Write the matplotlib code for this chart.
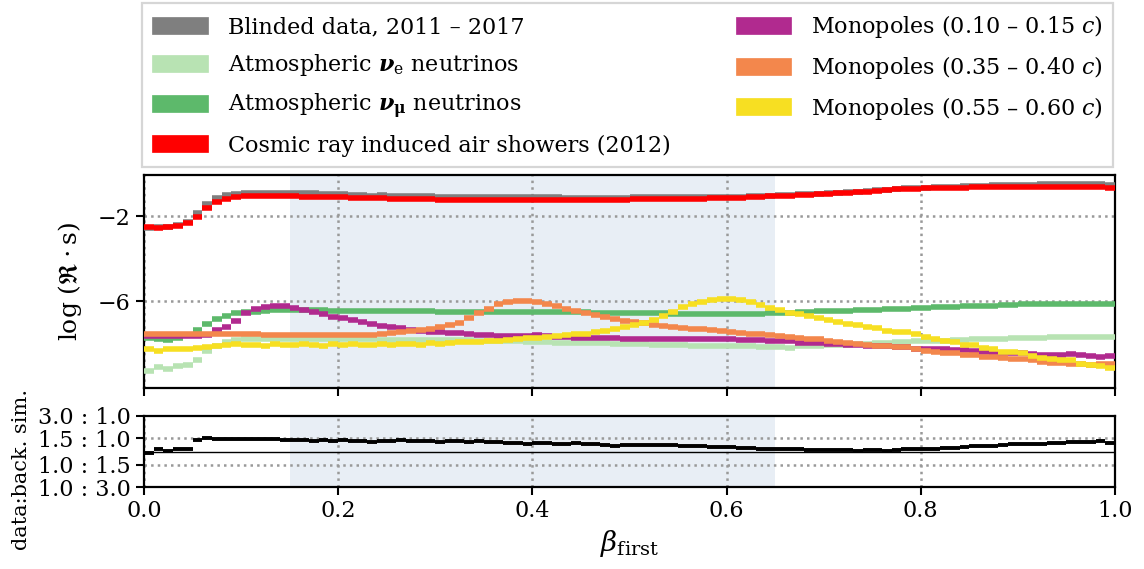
import numpy as np
import matplotlib
matplotlib.use("Agg")
import matplotlib.pyplot as plt
from matplotlib.patches import Patch

plt.rcParams['font.family'] = ['DejaVu Serif']
plt.rcParams['mathtext.fontset'] = 'dejavuserif'

# 100 bins in beta_first, values are log10(rate * s)
bin_edges = np.linspace(0.0, 1.0, 101)

blinded_data = [
    -2.53, -2.51, -2.49, -2.42, -2.26, -1.86, -1.44, -1.15, -1.01, -0.93,
    -0.89, -0.89, -0.89, -0.89, -0.90, -0.90, -0.91, -0.92, -0.94, -0.96,
    -0.95, -0.98, -0.99, -1.02, -1.01, -1.02, -1.02, -1.04, -1.06, -1.06,
    -1.08, -1.07, -1.08, -1.10, -1.09, -1.10, -1.09, -1.10, -1.11, -1.10,
    -1.10, -1.11, -1.11, -1.13, -1.12, -1.12, -1.12, -1.13, -1.13, -1.12,
    -1.11, -1.11, -1.10, -1.11, -1.10, -1.11, -1.10, -1.09, -1.09, -1.08,
    -1.07, -1.07, -1.06, -1.04, -1.03, -1.01, -0.99, -0.97, -0.96, -0.94,
    -0.91, -0.89, -0.86, -0.85, -0.81, -0.78, -0.75, -0.71, -0.68, -0.66,
    -0.64, -0.63, -0.61, -0.60, -0.58, -0.56, -0.55, -0.54, -0.52, -0.51,
    -0.50, -0.50, -0.49, -0.49, -0.48, -0.48, -0.49, -0.49, -0.49, -0.52,
]
nu_e = [
    -9.31, -9.12, -9.21, -9.06, -9.02, -8.76, -8.36, -8.11, -7.95, -7.83,
    -7.80, -7.78, -7.78, -7.77, -7.78, -7.78, -7.79, -7.78, -7.78, -7.79,
    -7.80, -7.80, -7.81, -7.81, -7.82, -7.82, -7.83, -7.83, -7.83, -7.84,
    -7.84, -7.84, -7.85, -7.85, -7.86, -7.87, -7.88, -7.89, -7.90, -7.91,
    -7.95, -7.95, -7.96, -7.97, -7.98, -7.99, -8.00, -8.00, -8.01, -8.02,
    -8.03, -8.04, -8.05, -8.06, -8.07, -8.08, -8.10, -8.11, -8.12, -8.12,
    -8.12, -8.12, -8.13, -8.15, -8.16, -8.16, -8.21, -8.13, -8.12, -8.11,
    -8.08, -8.06, -8.05, -8.04, -8.03, -8.00, -7.96, -7.93, -7.92, -7.90,
    -7.88, -7.87, -7.86, -7.84, -7.83, -7.81, -7.80, -7.79, -7.77, -7.76,
    -7.75, -7.74, -7.72, -7.71, -7.70, -7.69, -7.69, -7.69, -7.70, -7.71,
]
nu_mu = [
    -7.76, -7.80, -7.83, -7.73, -7.60, -7.37, -7.09, -6.83, -6.69, -6.58,
    -6.50, -6.50, -6.47, -6.44, -6.41, -6.43, -6.43, -6.43, -6.44, -6.46,
    -6.46, -6.46, -6.46, -6.47, -6.47, -6.48, -6.48, -6.48, -6.49, -6.49,
    -6.50, -6.50, -6.50, -6.50, -6.51, -6.51, -6.52, -6.52, -6.52, -6.52,
    -6.51, -6.51, -6.52, -6.52, -6.52, -6.53, -6.54, -6.55, -6.55, -6.56,
    -6.56, -6.57, -6.57, -6.58, -6.59, -6.60, -6.61, -6.62, -6.62, -6.63,
    -6.62, -6.61, -6.60, -6.59, -6.58, -6.57, -6.55, -6.52, -6.50, -6.49,
    -6.48, -6.46, -6.45, -6.44, -6.43, -6.40, -6.38, -6.36, -6.37, -6.33,
    -6.31, -6.30, -6.28, -6.27, -6.25, -6.24, -6.22, -6.21, -6.19, -6.18,
    -6.16, -6.15, -6.15, -6.14, -6.14, -6.13, -6.13, -6.13, -6.14, -6.14,
]
air_showers = [
    -2.52, -2.54, -2.50, -2.46, -2.30, -2.02, -1.62, -1.32, -1.17, -1.10,
    -1.06, -1.06, -1.06, -1.06, -1.06, -1.06, -1.07, -1.07, -1.09, -1.10,
    -1.10, -1.12, -1.13, -1.15, -1.15, -1.17, -1.18, -1.18, -1.20, -1.20,
    -1.21, -1.21, -1.22, -1.23, -1.23, -1.23, -1.22, -1.22, -1.22, -1.21,
    -1.21, -1.22, -1.22, -1.23, -1.23, -1.23, -1.22, -1.22, -1.21, -1.21,
    -1.20, -1.20, -1.19, -1.19, -1.18, -1.18, -1.17, -1.16, -1.15, -1.14,
    -1.13, -1.12, -1.10, -1.08, -1.06, -1.04, -1.02, -1.00, -0.98, -0.96,
    -0.93, -0.91, -0.88, -0.86, -0.83, -0.80, -0.76, -0.73, -0.71, -0.70,
    -0.68, -0.67, -0.66, -0.65, -0.64, -0.63, -0.62, -0.62, -0.61, -0.61,
    -0.60, -0.60, -0.60, -0.60, -0.60, -0.60, -0.61, -0.62, -0.63, -0.64,
]
mono_010 = [
    -7.65, -7.65, -7.65, -7.65, -7.64, -7.64, -7.60, -7.37, -7.21, -6.93,
    -6.54, -6.38, -6.28, -6.24, -6.24, -6.31, -6.43, -6.52, -6.63, -6.74,
    -6.82, -6.91, -6.99, -7.09, -7.18, -7.23, -7.29, -7.34, -7.39, -7.45,
    -7.47, -7.51, -7.52, -7.56, -7.61, -7.62, -7.64, -7.65, -7.65, -7.65,
    -7.62, -7.64, -7.68, -7.70, -7.72, -7.72, -7.73, -7.76, -7.76, -7.77,
    -7.78, -7.78, -7.79, -7.81, -7.81, -7.80, -7.80, -7.81, -7.80, -7.77,
    -7.80, -7.83, -7.84, -7.85, -7.86, -7.86, -7.87, -7.96, -7.97, -8.00,
    -8.03, -8.04, -8.05, -8.07, -8.10, -8.12, -8.14, -8.17, -8.16, -8.24,
    -8.26, -8.25, -8.24, -8.30, -8.31, -8.35, -8.39, -8.44, -8.44, -8.44,
    -8.44, -8.49, -8.52, -8.52, -8.52, -8.51, -8.55, -8.58, -8.64, -8.57,
]
mono_035 = [
    -7.53, -7.53, -7.53, -7.54, -7.54, -7.54, -7.55, -7.55, -7.56, -7.57,
    -7.57, -7.57, -7.58, -7.58, -7.58, -7.58, -7.59, -7.59, -7.59, -7.60,
    -7.62, -7.62, -7.62, -7.61, -7.57, -7.50, -7.48, -7.40, -7.37, -7.31,
    -7.24, -7.15, -7.01, -6.82, -6.58, -6.35, -6.16, -6.06, -6.00, -5.98,
    -6.03, -6.13, -6.24, -6.35, -6.47, -6.57, -6.66, -6.76, -6.85, -6.93,
    -6.98, -7.04, -7.12, -7.17, -7.21, -7.26, -7.30, -7.33, -7.36, -7.39,
    -7.44, -7.50, -7.53, -7.57, -7.61, -7.65, -7.68, -7.75, -7.78, -7.81,
    -7.87, -7.92, -7.97, -8.02, -8.05, -8.10, -8.12, -8.16, -8.18, -8.24,
    -8.35, -8.42, -8.44, -8.45, -8.55, -8.56, -8.65, -8.65, -8.68, -8.72,
    -8.74, -8.78, -8.87, -8.90, -8.91, -8.98, -8.98, -9.00, -8.96, -8.98,
]
mono_055 = [
    -8.28, -8.36, -8.28, -8.28, -8.26, -8.20, -8.16, -8.11, -8.08, -8.03,
    -8.08, -8.05, -8.11, -8.03, -8.08, -8.05, -8.03, -8.08, -8.11, -8.03,
    -8.05, -8.03, -8.05, -8.06, -8.03, -8.08, -8.02, -8.03, -8.05, -8.00,
    -8.02, -7.97, -7.94, -7.91, -7.94, -7.89, -7.87, -7.83, -7.80, -7.76,
    -7.73, -7.70, -7.64, -7.61, -7.57, -7.53, -7.45, -7.39, -7.32, -7.24,
    -7.13, -7.02, -6.88, -6.69, -6.50, -6.30, -6.13, -6.03, -5.95, -5.91,
    -5.91, -5.97, -6.06, -6.19, -6.31, -6.43, -6.54, -6.63, -6.72, -6.82,
    -6.91, -6.99, -7.07, -7.15, -7.23, -7.29, -7.39, -7.45, -7.46, -7.57,
    -7.69, -7.80, -7.87, -7.93, -8.06, -8.08, -8.20, -8.27, -8.39, -8.41,
    -8.43, -8.58, -8.69, -8.71, -8.77, -8.80, -8.96, -9.02, -9.07, -9.15,
]
# log10(data / background simulation)
data_ratio = [
    -0.014, 0.034, 0.010, 0.039, 0.039, 0.159, 0.179, 0.174, 0.164, 0.169,
    0.169, 0.169, 0.169, 0.174, 0.159, 0.159, 0.159, 0.145, 0.150, 0.140,
    0.150, 0.135, 0.140, 0.130, 0.140, 0.145, 0.155, 0.140, 0.135, 0.140,
    0.126, 0.135, 0.135, 0.130, 0.135, 0.130, 0.130, 0.116, 0.111, 0.106,
    0.111, 0.111, 0.106, 0.101, 0.111, 0.106, 0.101, 0.092, 0.077, 0.092,
    0.087, 0.087, 0.087, 0.082, 0.082, 0.072, 0.068, 0.068, 0.063, 0.058,
    0.058, 0.053, 0.043, 0.039, 0.034, 0.034, 0.029, 0.029, 0.024, 0.024,
    0.019, 0.019, 0.019, 0.010, 0.019, 0.019, 0.010, 0.024, 0.034, 0.039,
    0.039, 0.039, 0.048, 0.053, 0.063, 0.068, 0.072, 0.077, 0.092, 0.101,
    0.101, 0.101, 0.106, 0.111, 0.116, 0.121, 0.121, 0.130, 0.140, 0.116,
]

series = [
    (blinded_data, '#7f7f7f', 'Blinded data, 2011 – 2017'),
    (nu_e, '#b8e3b3', r'Atmospheric $\boldsymbol{\nu}_\mathrm{e}$ neutrinos'),
    (nu_mu, '#5db96b', r'Atmospheric $\boldsymbol{\nu}_\mathbf{\mu}$ neutrinos'),
    (air_showers, '#ff0000', 'Cosmic ray induced air showers (2012)'),
    (mono_010, '#b12a8f', r'Monopoles (0.10 – 0.15 $c$)'),
    (mono_035, '#f3874c', r'Monopoles (0.35 – 0.40 $c$)'),
    (mono_055, '#f7df22', r'Monopoles (0.55 – 0.60 $c$)'),
]

blind_lo, blind_hi = 0.15, 0.65
shade = '#e8eef5'
grid_kw = dict(color='#999999', ls=':', lw=1.8)
fs = 16

W, H = 1144, 569
fig = plt.figure(figsize=(W / 100, H / 100), dpi=100)
ax = fig.add_axes([144 / W, 1 - 388 / H, 971 / W, 213 / H])
ax2 = fig.add_axes([144 / W, 1 - 487 / H, 971 / W, 71 / H], sharex=ax)

for a in (ax, ax2):
    a.axvspan(blind_lo, blind_hi, color=shade, lw=0, zorder=0)
    for s in a.spines.values():
        s.set_linewidth(1.6)
    a.tick_params(direction='out', length=6, width=1.5, labelsize=fs)

for vals, col, _ in series:
    ax.hlines(vals, bin_edges[:-1], bin_edges[1:], colors=col, lw=4.0,
              zorder=3, capstyle='butt')

ax.set_xlim(0, 1)
ax.set_ylim(-10.1, -0.05)
ax.set_yticks([-2, -6])
ax.set_xticks(np.arange(0, 1.01, 0.2))
ax.tick_params(axis='x', labelbottom=False)
ax.grid(True, zorder=1, **grid_kw)
ax.set_axisbelow(True)
ax.set_ylabel(r'$\log\,(\Re\cdot\mathrm{s})$', fontsize=18)
ax.yaxis.set_label_coords(-0.062, 0.5)

# ratio panel
r3, r15 = np.log10(3.0), np.log10(1.5)
ax2.hlines(data_ratio, bin_edges[:-1], bin_edges[1:], colors='black', lw=2.8,
           zorder=3, capstyle='butt')
ax2.axhline(0, color='black', lw=1.0, zorder=2)
for yv in (r15, -r15):
    ax2.axhline(yv, zorder=1, **grid_kw)
ax2.grid(True, axis='x', zorder=1, **grid_kw)
ax2.set_axisbelow(True)
ax2.set_ylim(-r3, r3)
ax2.set_yticks([r3, r15, -r15, -r3])
ax2.set_yticklabels(['3.0 : 1.0', '1.5 : 1.0', '1.0 : 1.5', '1.0 : 3.0'])
ax2.set_xticks(np.arange(0, 1.01, 0.2))
ax2.set_xticklabels(['0.0', '0.2', '0.4', '0.6', '0.8', '1.0'])
ax2.set_xlim(0, 1)
ax2.set_ylabel('data:back. sim.', fontsize=15)
ax2.yaxis.set_label_coords(-0.116, 0.25)
ax2.set_xlabel(r'$\beta_\mathrm{first}$', fontsize=20, labelpad=4)

handles = [Patch(facecolor=c, edgecolor=c, lw=0.5) for _, c, _ in series]
labels = [lab for _, _, lab in series]
leg = fig.legend(handles, labels, loc='upper left',
                 bbox_to_anchor=(142 / W, 1 - 168 / H, 971 / W, 165 / H),
                 mode='expand', ncol=2, fontsize=fs, frameon=True,
                 fancybox=False, edgecolor='#cccccc', borderaxespad=0,
                 handlelength=2.5, handleheight=0.8, handletextpad=0.9,
                 labelspacing=0.62, borderpad=0.45)
leg.get_frame().set_linewidth(1.6)

fig.savefig('out.png', dpi=100)
